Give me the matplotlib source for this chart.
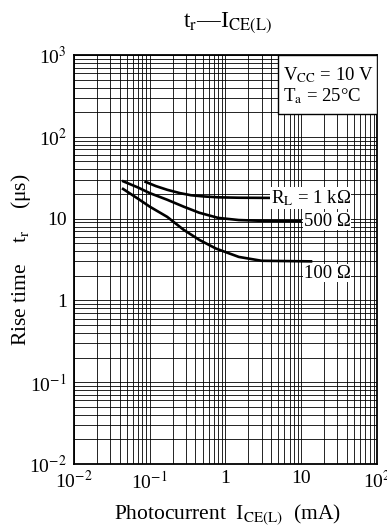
import matplotlib
matplotlib.use("Agg")
import matplotlib.pyplot as plt
from matplotlib.ticker import LogLocator, NullFormatter, FixedLocator, FixedFormatter
from matplotlib.patches import Rectangle

plt.rcParams['font.family'] = ['Liberation Serif', 'DejaVu Serif']
plt.rcParams['mathtext.fontset'] = 'stix'

# Data
x_1k = [0.085, 0.12, 0.17, 0.25, 0.35, 0.5, 0.8, 1.5, 4.0]
y_1k = [28.5, 25.0, 22.5, 20.5, 19.3, 18.7, 18.2, 18.0, 17.9]

x_500 = [0.043, 0.07, 0.10, 0.17, 0.28, 0.45, 0.8, 1.5, 3.0, 10.0]
y_500 = [29.0, 24.0, 20.5, 17.0, 14.0, 11.8, 10.2, 9.6, 9.4, 9.3]

x_100 = [0.043, 0.07, 0.10, 0.17, 0.28, 0.45, 0.75, 1.5, 3.0, 14.0]
y_100 = [23.5, 17.5, 14.0, 10.5, 7.3, 5.5, 4.3, 3.4, 3.05, 3.0]

x_ticks = [1e-2, 1e-1, 1, 10, 1e2]
x_ticklabels = [r'10$^{-2}$', r'10$^{-1}$', '1', '10', r'10$^{2}$']
y_ticks = [1e-2, 1e-1, 1, 10, 1e2, 1e3]
y_ticklabels = [r'10$^{-2}$', r'10$^{-1}$', '1', '10', r'10$^{2}$', r'10$^{3}$']

W, H = 387, 527
fig = plt.figure(figsize=(W / 100, H / 100), dpi=100)
L, R, T, B = 74, 377, 55, 464
ax = fig.add_axes([L / W, 1 - B / H, (R - L) / W, (B - T) / H])
ax.set_xscale('log')
ax.set_yscale('log')
ax.set_xlim(1e-2, 1e2)
ax.set_ylim(1e-2, 1e3)

ax.xaxis.set_major_locator(FixedLocator(x_ticks))
ax.xaxis.set_major_formatter(FixedFormatter(x_ticklabels))
ax.yaxis.set_major_locator(FixedLocator(y_ticks))
ax.yaxis.set_major_formatter(FixedFormatter(y_ticklabels))
ax.xaxis.set_minor_locator(LogLocator(base=10, subs=[2, 3, 4, 5, 6, 7, 8, 9], numticks=20))
ax.yaxis.set_minor_locator(LogLocator(base=10, subs=[2, 3, 4, 5, 6, 7, 8, 9], numticks=20))
ax.xaxis.set_minor_formatter(NullFormatter())
ax.yaxis.set_minor_formatter(NullFormatter())
ax.grid(which='both', color='black', linewidth=0.6)
ax.set_axisbelow(True)
ax.tick_params(which='both', length=0, labelsize=14)
ax.tick_params(axis='x', pad=4.5)
ax.tick_params(axis='y', pad=5)
for s in ax.spines.values():
    s.set_linewidth(1.3)

lw = 1.9
ax.plot(x_1k, y_1k, color='black', lw=lw, solid_capstyle='butt', zorder=3)
ax.plot(x_500, y_500, color='black', lw=lw, solid_capstyle='butt', zorder=3)
ax.plot(x_100, y_100, color='black', lw=lw, solid_capstyle='butt', zorder=3)

bb = dict(facecolor='white', edgecolor='none', pad=0.5)
ax.text(45, 17.9, r'R$_\mathrm{L}$ = 1 kΩ', ha='right', va='center', fontsize=13.5, bbox=bb, zorder=4)
ax.text(45, 9.3, '500 Ω', ha='right', va='center', fontsize=13.5, bbox=bb, zorder=4)
ax.text(45, 2.15, '100 Ω', ha='right', va='center', fontsize=13.5, bbox=bb, zorder=4)

# condition box
bx0 = (278 - L) / (R - L)
by0 = 1 - (114 - T) / (B - T)
ax.add_patch(Rectangle((bx0, by0), 1 - bx0, 1 - by0, transform=ax.transAxes,
                       facecolor='white', edgecolor='black', lw=1.0, zorder=5))
ax.text((283 - L) / (R - L), 1 - (75 - T) / (B - T), r'V$_\mathrm{CC}$ = 10 V',
        transform=ax.transAxes, ha='left', va='center', fontsize=13.5, zorder=6)
ax.text((283 - L) / (R - L), 1 - (96 - T) / (B - T), r'T$_\mathrm{a}$ = 25°C',
        transform=ax.transAxes, ha='left', va='center', fontsize=13.5, zorder=6)

fig.text(227 / W, 1 - 27 / H, r't$_\mathrm{r}$—I$_\mathrm{CE(L)}$', ha='center', va='baseline', fontsize=17)
fig.text(228 / W, 1 - 519 / H, r'Photocurrent  I$_\mathrm{CE(L)}$  (mA)', ha='center', va='baseline', fontsize=15.5)
fig.text(21 / W, 1 - 260 / H, r'Rise time    t$_\mathrm{r}$    (μs)', ha='center', va='center',
         rotation=90, fontsize=15.5)

fig.savefig('out.png', dpi=100)
